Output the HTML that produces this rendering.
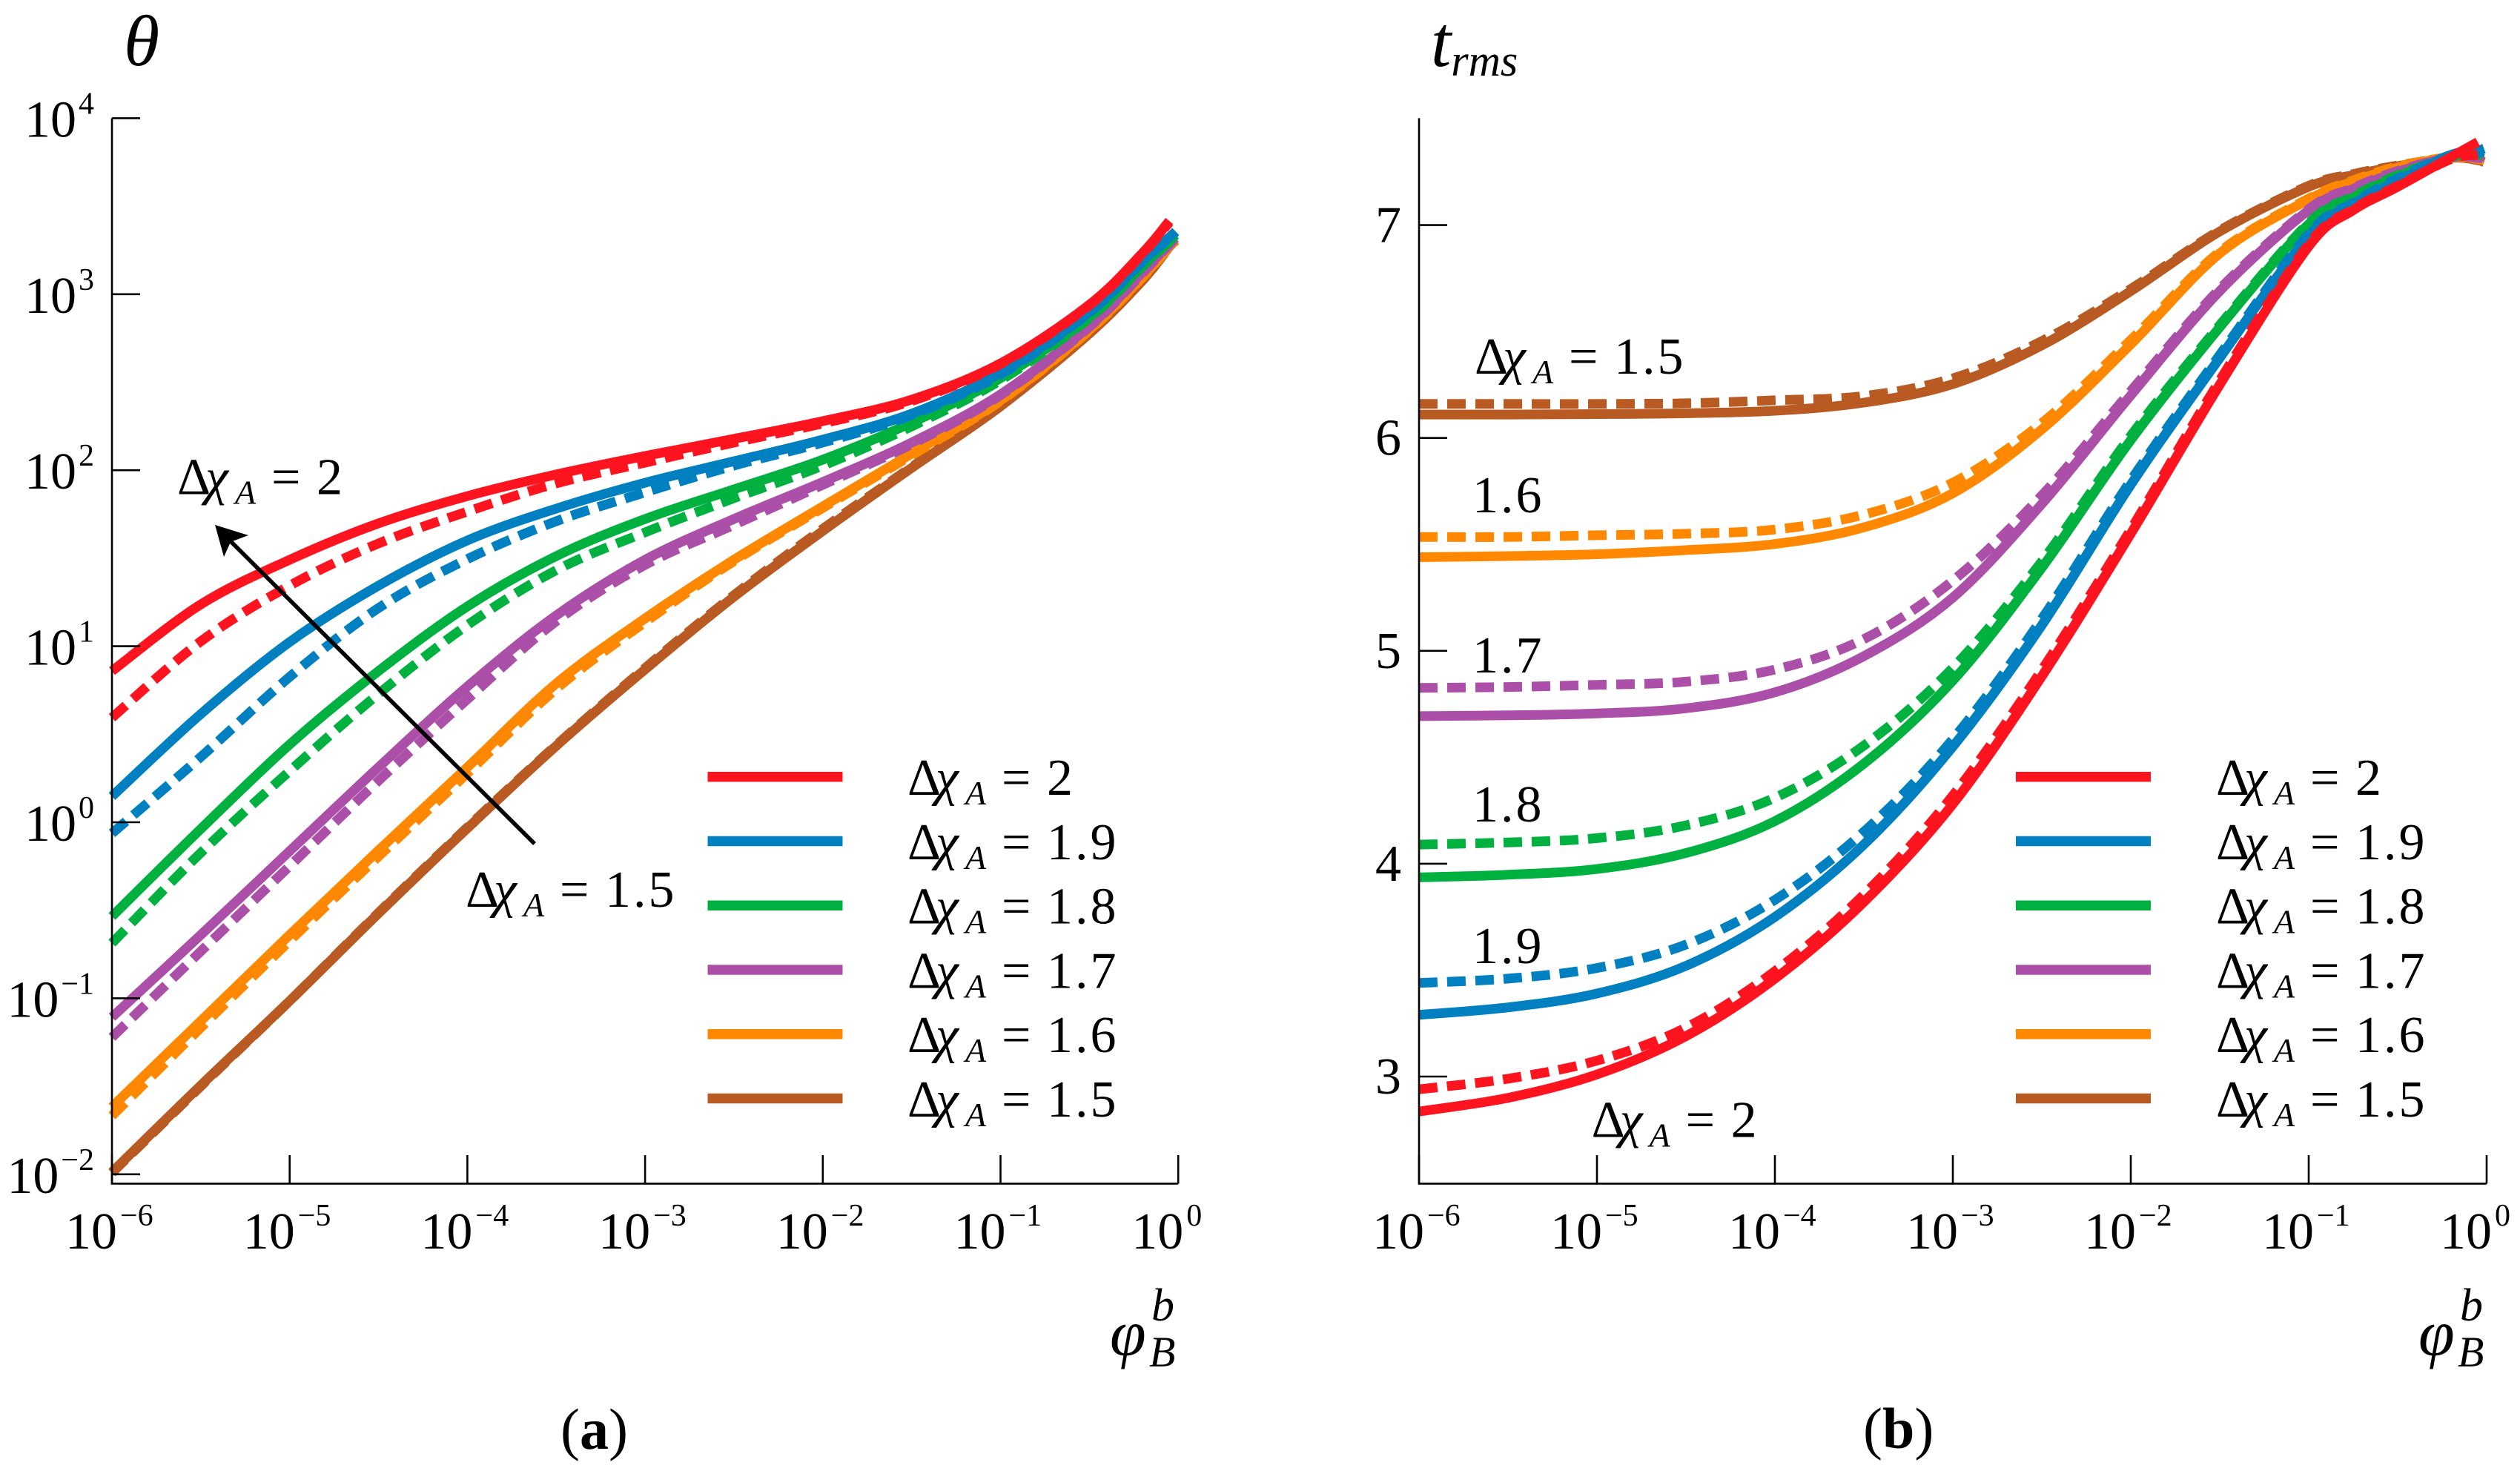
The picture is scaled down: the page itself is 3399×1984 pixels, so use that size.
<!DOCTYPE html>
<html lang="en">
<head>
<meta charset="utf-8">
<title>Theta and t_rms versus phi</title>
<style>
html,body{margin:0;padding:0;background:#fff;}
svg{display:block;font-family:"Liberation Serif",serif;fill:#000;}
</style>
</head>
<body>
<svg id="figure" xmlns="http://www.w3.org/2000/svg" width="3399" height="1984" viewBox="0 0 3399 1984">
  <rect x="0" y="0" width="3399" height="1984" fill="#fff"/>
  <g id="panelA"></g>
  <g id="panelB"></g>
  <g>
    <line x1="721" y1="1138" x2="306" y2="725" stroke="#000" stroke-width="5.5"/>
    <polygon points="290,708 335,722 311,731 302,751" fill="#000"/>
  </g>
  <text x="167" y="88" font-size="98" font-style="italic">θ</text>
  <text x="1930" y="89" font-size="98" font-style="italic">t<tspan font-size="60" dy="13">rms</tspan></text>
  <text font-style="italic"><tspan x="1497" y="1828" font-size="88">φ</tspan><tspan x="1553" y="1781" font-size="62">b</tspan><tspan x="1550" y="1843" font-size="58">B</tspan></text>
  <text font-style="italic"><tspan x="3262" y="1828" font-size="88">φ</tspan><tspan x="3318" y="1781" font-size="62">b</tspan><tspan x="3315" y="1843" font-size="58">B</tspan></text>
  <text x="756" y="1954" font-size="78">(<tspan font-weight="bold">a</tspan>)</text>
  <text x="2513" y="1953" font-size="78">(<tspan font-weight="bold">b</tspan>)</text>
  <text x="1986" y="691" font-size="70" letter-spacing="3">1.6</text>
  <text x="1986" y="907" font-size="70" letter-spacing="3">1.7</text>
  <text x="1986" y="1108" font-size="70" letter-spacing="3">1.8</text>
  <text x="1986" y="1299" font-size="70" letter-spacing="3">1.9</text>
</svg>
<script>
// Shared x samples: log10 of phi_B^b
const thetaLogPhiNodes = [-6,-5.5,-5,-4.5,-4,-3.5,-3,-2.5,-2,-1.5,-1,-0.5,-0.2,-0.05,-0.015];
const trmsLogPhiNodes = [-6,-5.5,-5,-4.5,-4,-3.5,-3,-2.5,-2,-1.5,-1,-0.75,-0.5,-0.2,-0.05,-0.015];

// Panel (a): log10 theta, solid series
const thetaSolid20 = [0.859,1.238,1.491,1.698,1.853,1.976,2.081,2.178,2.279,2.401,2.607,2.940,3.235,3.416];
const thetaSolid19 = [0.147,0.615,1.024,1.344,1.601,1.782,1.929,2.051,2.174,2.321,2.553,2.898,3.189,3.323,3.357];
const thetaSolid18 = [-0.535,-0.038,0.442,0.859,1.226,1.512,1.723,1.891,2.060,2.270,2.523,2.869,3.163,3.302,3.336];
const thetaSolid17 = [-1.108,-0.640,-0.164,0.312,0.771,1.175,1.491,1.723,1.933,2.157,2.431,2.818,3.126,3.286,3.319];
const thetaSolid16 = [-1.618,-1.129,-0.640,-0.160,0.312,0.788,1.158,1.491,1.794,2.094,2.397,2.797,3.100,3.273,3.307];
const thetaSolid15 = [-1.988,-1.495,-1.015,-0.518,-0.034,0.434,0.868,1.281,1.655,2.013,2.363,2.776,3.079,3.269,3.302];

// Panel (a): log10 theta, dashed series
const thetaDashed20 = [0.594,1.028,1.344,1.584,1.765,1.925,2.043,2.157,2.266,2.393,2.603,2.936,3.231,3.408];
const thetaDashed19 = [-0.063,0.371,0.826,1.217,1.495,1.710,1.874,2.026,2.157,2.313,2.544,2.894,3.184,3.319,3.353];
const thetaDashed18 = [-0.687,-0.173,0.291,0.729,1.120,1.432,1.647,1.841,2.026,2.249,2.511,2.864,3.159,3.298,3.332];
const thetaDashed17 = [-1.222,-0.733,-0.249,0.236,0.699,1.142,1.462,1.689,1.917,2.148,2.426,2.814,3.121,3.281,3.315];
const thetaDashed16 = [-1.668,-1.167,-0.674,-0.194,0.278,0.758,1.137,1.483,1.786,2.085,2.393,2.793,3.096,3.269,3.302];
const thetaDashed15 = [-1.992,-1.500,-1.015,-0.514,-0.029,0.438,0.876,1.290,1.667,2.018,2.367,2.780,3.079,3.269,3.302];

// Panel (b): t_rms, solid series
const trmsSolid20 = [2.836,2.90,3.01,3.19,3.46,3.82,4.28,4.88,5.55,6.25,6.90,7.07,7.18,7.32,7.39];
const trmsSolid19 = [3.29,3.325,3.39,3.52,3.75,4.09,4.55,5.12,5.78,6.376,6.95,7.10,7.21,7.33,7.35,7.36];
const trmsSolid18 = [3.936,3.948,3.975,4.05,4.20,4.47,4.86,5.39,5.99,6.52,7.005,7.13,7.23,7.32,7.34,7.34];
const trmsSolid17 = [4.693,4.697,4.706,4.73,4.805,4.975,5.25,5.69,6.2,6.69,7.07,7.17,7.25,7.32,7.32,7.32];
const trmsSolid16 = [5.44,5.445,5.454,5.473,5.502,5.58,5.74,6.04,6.44,6.867,7.12,7.205,7.27,7.32,7.31,7.305];
const trmsSolid15 = [6.11,6.11,6.112,6.116,6.128,6.166,6.253,6.435,6.69,6.97,7.18,7.235,7.277,7.316,7.305,7.295];

// Panel (b): t_rms, dashed series
const trmsDashed20 = [2.94,2.99,3.075,3.23,3.495,3.855,4.32,4.91,5.57,6.27,6.91,7.075,7.185,7.31,7.33];
const trmsDashed19 = [3.44,3.46,3.51,3.62,3.83,4.15,4.585,5.15,5.80,6.39,6.96,7.105,7.22,7.33,7.34,7.34];
const trmsDashed18 = [4.09,4.10,4.12,4.18,4.31,4.555,4.92,5.42,6.01,6.53,7.01,7.135,7.235,7.32,7.33,7.33];
const trmsDashed17 = [4.826,4.83,4.84,4.855,4.912,5.055,5.33,5.73,6.22,6.70,7.075,7.175,7.255,7.32,7.315,7.31];
const trmsDashed16 = [5.535,5.535,5.543,5.55,5.57,5.64,5.79,6.07,6.46,6.875,7.125,7.21,7.275,7.32,7.31,7.30];
const trmsDashed15 = [6.16,6.16,6.16,6.163,6.177,6.197,6.28,6.455,6.70,6.975,7.185,7.24,7.28,7.316,7.305,7.295];

// Categories and tick labels
const seriesLabels = ['2','1.9','1.8','1.7','1.6','1.5'];
const seriesSlugs = ['2-0','1-9','1-8','1-7','1-6','1-5'];
const seriesColors = ['#fe141e','#0080c0','#00b140','#ac4fa8','#ff8800','#b85a22'];
const xTickExponents = ['−6','−5','−4','−3','−2','−1','0'];
const xTickValues = [-6,-5,-4,-3,-2,-1,0];
const thetaTickValues = [4,3,2,1,0,-1,-2];
const thetaTickExponents = ['4','3','2','1','0','−1','−2'];
const trmsTickValues = [7,6,5,4,3];

const thetaSolid = [thetaSolid20,thetaSolid19,thetaSolid18,thetaSolid17,thetaSolid16,thetaSolid15];
const thetaDashed = [thetaDashed20,thetaDashed19,thetaDashed18,thetaDashed17,thetaDashed16,thetaDashed15];
const trmsSolid = [trmsSolid20,trmsSolid19,trmsSolid18,trmsSolid17,trmsSolid16,trmsSolid15];
const trmsDashed = [trmsDashed20,trmsDashed19,trmsDashed18,trmsDashed17,trmsDashed16,trmsDashed15];

const NS = 'http://www.w3.org/2000/svg';
const figure = document.getElementById('figure');
const panelA = document.getElementById('panelA');
const panelB = document.getElementById('panelB');

function make(tag, parent) {
  const el = document.createElementNS(NS, tag);
  parent.appendChild(el);
  return el;
}
function setAll(el, attrs) {
  for (const k in attrs) el.setAttribute(k, attrs[k]);
}

// Axis functions
const xA = v => 151 + (v + 6) * 239.7;
const xB = v => 1914 + (v + 6) * 240;
const yA = v => 159.4 + (4 - v) * 237.4;
const yB = v => 303.6 + (7 - v) * 287.1;

function smoothPath(pts) {
  let d = 'M' + pts[0][0].toFixed(1) + ' ' + pts[0][1].toFixed(1);
  for (let i = 0; i < pts.length - 1; i++) {
    const p0 = pts[Math.max(0, i - 1)];
    const p1 = pts[i];
    const p2 = pts[i + 1];
    const p3 = pts[Math.min(pts.length - 1, i + 2)];
    const c1x = p1[0] + (p2[0] - p0[0]) / 6;
    const c1y = p1[1] + (p2[1] - p0[1]) / 6;
    const c2x = p2[0] - (p3[0] - p1[0]) / 6;
    const c2y = p2[1] - (p3[1] - p1[1]) / 6;
    d += 'C' + c1x.toFixed(1) + ' ' + c1y.toFixed(1) + ' ' + c2x.toFixed(1) + ' ' + c2y.toFixed(1) + ' ' + p2[0].toFixed(1) + ' ' + p2[1].toFixed(1);
  }
  return d;
}

function drawSeries(parent, values, nodes, xf, yf, color, dashed, name) {
  const pts = values.map((v, i) => [xf(nodes[i]), yf(v)]);
  const path = make('path', parent);
  
  
  setAll(path, {d: smoothPath(pts), fill: 'none', stroke: color, 'stroke-width': 13});
  if (dashed) path.setAttribute('stroke-dasharray', '25 13');
}

function drawDelta(parent, x, y, value, name) {
  const t = make('text', parent);
  
  
  t.setAttribute('font-size', '70');
  const a = make('tspan', t);
  setAll(a, {x: x, y: y});
  a.textContent = 'Δ';
  const b = make('tspan', t);
  setAll(b, {x: x + 38, y: y, 'font-style': 'italic'});
  b.textContent = 'χ';
  const c = make('tspan', t);
  setAll(c, {x: x + 78, y: y + 13, 'font-style': 'italic', 'font-size': '46'});
  c.textContent = 'A';
  const d = make('tspan', t);
  setAll(d, {x: x + 127, y: y});
  d.textContent = '=';
  const e = make('tspan', t);
  setAll(e, {x: x + 188, y: y, 'letter-spacing': '3'});
  e.textContent = value;
}

function drawAxes(parent, xf, yf, yTicks, yExp, yLabelRight, prefix) {
  const axis = make('path', parent);
  
  
  setAll(axis, {d: 'M' + xf(-6) + ' 159.4V1596.4H' + xf(0), fill: 'none', stroke: '#000', 'stroke-width': 2.6});
  xTickValues.forEach((v, i) => {
    const tick = make('line', parent);
    
    
    setAll(tick, {x1: xf(v), x2: xf(v), y1: 1596.4, y2: 1558, stroke: '#000', 'stroke-width': 2.6});
    const label = make('text', parent);
    
    
    setAll(label, {x: xf(v) - 63, y: 1684, 'font-size': 70});
    label.textContent = '10';
    const sup = make('tspan', label);
    setAll(sup, {dy: -31, dx: 4, 'font-size': 42});
    sup.textContent = xTickExponents[i];
  });
  yTicks.forEach((v, i) => {
    const tick = make('line', parent);
    
    
    setAll(tick, {x1: xf(-6), x2: xf(-6) + 38, y1: yf(v), y2: yf(v), stroke: '#000', 'stroke-width': 2.6});
    const label = make('text', parent);
    
    
    setAll(label, {x: yLabelRight, y: yf(v) + (yExp ? 25 : 23), 'font-size': 70, 'text-anchor': 'end'});
    if (yExp) {
      label.textContent = '10';
      const sup = make('tspan', label);
      setAll(sup, {dy: -31, dx: 3, 'font-size': 42});
      sup.textContent = yExp[i];
    } else {
      label.textContent = String(v);
    }
  });
}

function drawLegend(parent, lineX, textX, prefix) {
  seriesLabels.forEach((lab, i) => {
    const y = 1047.7 + i * 86.75;
    const line = make('line', parent);
    
    
    setAll(line, {x1: lineX, x2: lineX + 182, y1: y, y2: y, stroke: seriesColors[i], 'stroke-width': 13.5});
    drawDelta(parent, textX, 1072 + i * 86.75, lab, prefix + '-legend-label-' + seriesSlugs[i]);
  });
}

function drawPanel(parent, nodes, xf, yf, solid, dashed, prefix) {
  for (let i = solid.length - 1; i >= 0; i--) {
    drawSeries(parent, dashed[i], nodes, xf, yf, seriesColors[i], true, prefix + '-dashed-' + seriesSlugs[i]);
    drawSeries(parent, solid[i], nodes, xf, yf, seriesColors[i], false, prefix + '-solid-' + seriesSlugs[i]);
  }
}

drawPanel(panelA, thetaLogPhiNodes, xA, yA, thetaSolid, thetaDashed, 'theta');
drawAxes(panelA, xA, yA, thetaTickValues, thetaTickExponents, 127, 'panel-a');
drawLegend(panelA, 954.5, 1224, 'panel-a');
drawDelta(panelA, 239, 666.5, '2', 'annotation-delta-2');
drawDelta(panelA, 628, 1223, '1.5', 'annotation-delta-1-5');

drawPanel(panelB, trmsLogPhiNodes, xB, yB, trmsSolid, trmsDashed, 'trms');
drawAxes(panelB, xB, yB, trmsTickValues, null, 1890, 'panel-b');
drawLegend(panelB, 2719, 2989, 'panel-b');
drawDelta(panelB, 1989, 504, '1.5', 'annotation-b-delta-1-5');
drawDelta(panelB, 2146.6, 1533.6, '2', 'annotation-b-delta-2');
</script>
</body>
</html>
